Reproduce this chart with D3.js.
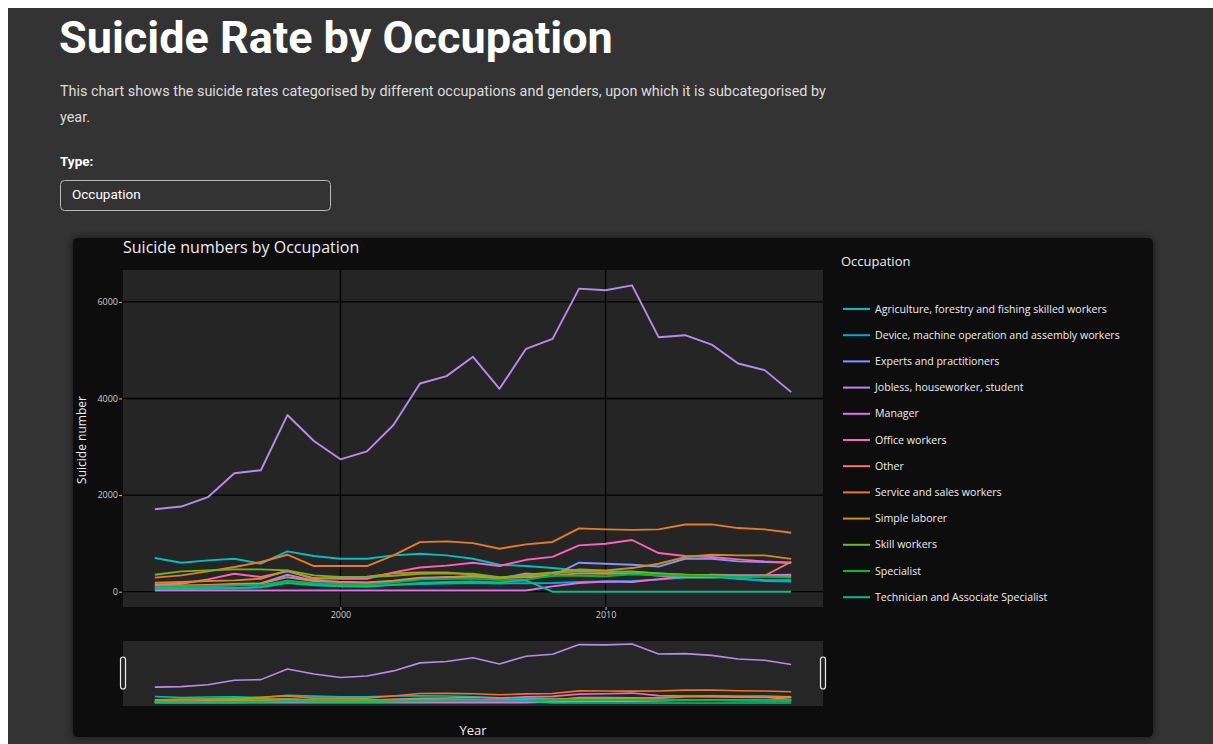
<!DOCTYPE html>
<html>
<head>
<meta charset="utf-8">
<script src="https://cdn.jsdelivr.net/npm/d3@7"></script>
<style>
  html, body { margin: 0; padding: 0; background: #ffffff; overflow: hidden; }
  svg { display: block; }
</style>
</head>
<body>
<svg id="chart" width="1213" height="744"></svg>
<script>
// ---------------- DATA ----------------
const years = d3.range(1993, 2018);
const categories = [
  "Agriculture, forestry and fishing skilled workers",
  "Device, machine operation and assembly workers",
  "Experts and practitioners",
  "Jobless, houseworker, student",
  "Manager",
  "Office workers",
  "Other",
  "Service and sales workers",
  "Simple laborer",
  "Skill workers",
  "Specialist",
  "Technician and Associate Specialist"
];
const colors = ["#00BFC4", "#00A9DF", "#7F96FF", "#B98BF0", "#E76BF3", "#FD61C0", "#F8766D", "#EA7A24", "#CF8E1C", "#6DB81A", "#00BA38", "#00C08B"];

const agriculture = [697, 600, 648, 683, 579, 834, 738, 683, 683, 751, 785, 751, 682, 558, 531, 489, 441, 430, 410, 380, 350, 330, 260, 240, 240];
const device      = [60, 60, 65, 70, 100, 230, 150, 130, 120, 140, 160, 170, 180, 170, 175, 180, 200, 210, 220, 250, 290, 300, 280, 220, 210];
const experts     = [90, 100, 110, 130, 170, 350, 230, 200, 180, 210, 270, 300, 320, 270, 380, 330, 600, 579, 558, 520, 682, 682, 627, 613, 600];
const jobless     = [1708, 1763, 1956, 2452, 2514, 3657, 3120, 2741, 2906, 3450, 4311, 4463, 4862, 4201, 5028, 5234, 6274, 6240, 6343, 5269, 5310, 5117, 4725, 4587, 4132];
const manager     = [25, 25, 25, 25, 25, 25, 25, 25, 25, 25, 25, 25, 25, 25, 25, 110, 180, 210, 200, 260, 320, 350, 340, 340, 350];
const office      = [150, 165, 255, 372, 303, 420, 282, 268, 268, 400, 500, 540, 600, 531, 660, 720, 958, 992, 1070, 800, 740, 717, 668, 627, 600];
const other       = [120, 130, 140, 160, 170, 300, 220, 200, 190, 230, 290, 300, 320, 280, 300, 330, 380, 370, 380, 330, 300, 300, 310, 330, 620];
const service     = [290, 338, 420, 510, 614, 765, 531, 531, 531, 751, 1027, 1041, 1005, 889, 980, 1030, 1310, 1290, 1280, 1289, 1390, 1393, 1317, 1289, 1220];
const simple      = [186, 200, 220, 234, 268, 441, 255, 300, 310, 379, 400, 400, 351, 282, 351, 400, 462, 441, 489, 579, 717, 765, 751, 751, 680];
const skill       = [351, 420, 441, 462, 462, 441, 338, 303, 303, 330, 370, 380, 370, 300, 330, 380, 420, 400, 420, 380, 350, 340, 330, 330, 320];
const specialist  = [100, 110, 120, 130, 140, 220, 180, 160, 150, 190, 250, 260, 270, 240, 250, 330, 330, 320, 360, 340, 330, 320, 300, 310, 290];
const technician  = [60, 65, 70, 75, 90, 180, 130, 110, 100, 140, 180, 200, 210, 190, 234, 0, 0, 0, 0, 0, 0, 0, 0, 0, 0];

const seriesValues = [agriculture, device, experts, jobless, manager, office, other, service, simple, skill, specialist, technician];
const yTicks = [0, 2000, 4000, 6000];
const xTicks = [2000, 2010];

const series = categories.map((c, i) => ({ name: c, color: colors[i], values: years.map((y, j) => ({ year: y, value: seriesValues[i][j] })) }));

// ---------------- LAYOUT ----------------
const svg = d3.select("#chart");
const page = svg.append("g");
page.append("rect").attr("x", 8).attr("y", 8).attr("width", 1205).attr("height", 736).attr("fill", "#333333");

page.append("text").attr("x", 59).attr("y", 53)
  .attr("font-family", "Roboto, sans-serif").attr("font-weight", 700).attr("font-size", 45)
  .attr("fill", "#ffffff").text("Suicide Rate by Occupation");

const sub = page.append("text").attr("font-family", "Roboto, sans-serif").attr("font-size", 14.4).attr("fill", "#dddddd");
sub.append("tspan").attr("x", 60).attr("y", 96).text("This chart shows the suicide rates categorised by different occupations and genders, upon which it is subcategorised by");
sub.append("tspan").attr("x", 60).attr("y", 122).text("year.");

page.append("text").attr("x", 60).attr("y", 166)
  .attr("font-family", "Roboto, sans-serif").attr("font-weight", 700).attr("font-size", 13.5)
  .attr("fill", "#ffffff").text("Type:");
page.append("rect").attr("x", 60.5).attr("y", 180.5).attr("width", 270).attr("height", 30).attr("rx", 4)
  .attr("fill", "#333333").attr("stroke", "#b8b8b8").attr("stroke-width", 1);
page.append("text").attr("x", 72).attr("y", 199)
  .attr("font-family", "Roboto, sans-serif").attr("font-size", 13.5).attr("fill", "#ffffff").text("Occupation");

// card
const defs = svg.append("defs");
const f = defs.append("filter").attr("id", "shadow").attr("x", "-5%").attr("y", "-5%").attr("width", "110%").attr("height", "110%");
f.append("feDropShadow").attr("dx", 0).attr("dy", 0).attr("stdDeviation", 4).attr("flood-color", "#000").attr("flood-opacity", 0.6);
svg.append("rect").attr("x", 73).attr("y", 238).attr("width", 1080).attr("height", 499).attr("rx", 5)
  .attr("fill", "#0a0a0a").attr("filter", "url(#shadow)");

// scales
const plot = { left: 123, right: 823, top: 270, bottom: 607 };
const yMax = d3.max(seriesValues, s => d3.max(s)), yMin = 0;
const yPad = (yMax - yMin) * 0.05;
const x = d3.scaleLinear().domain([1993 - 1.2, 2017 + 1.2]).range([plot.left, plot.right]);
const y = d3.scaleLinear().domain([yMin - yPad, yMax + yPad]).range([plot.bottom, plot.top]);
const ySlider = d3.scaleLinear().domain([yMin - yPad, yMax + yPad]).range([706, 641]);

const chart = svg.append("g");
chart.append("rect").attr("x", plot.left).attr("y", plot.top).attr("width", plot.right - plot.left).attr("height", plot.bottom - plot.top).attr("fill", "#252525");

// grid
chart.append("g").selectAll("line").data(yTicks).join("line")
  .attr("x1", plot.left).attr("x2", plot.right).attr("y1", d => y(d)).attr("y2", d => y(d))
  .attr("stroke", "#000").attr("stroke-width", 1.3);
chart.append("g").selectAll("line").data(xTicks).join("line")
  .attr("y1", plot.top).attr("y2", plot.bottom).attr("x1", d => x(d)).attr("x2", d => x(d))
  .attr("stroke", "#000").attr("stroke-width", 1.3);

// axes
const yAxis = d3.axisLeft(y).tickValues(yTicks).tickSize(3).tickPadding(1).tickFormat(d3.format("d"));
const gy = chart.append("g").attr("transform", `translate(${plot.left - 1},0)`).call(yAxis);
gy.select(".domain").remove();
gy.selectAll("line").attr("stroke", "#bbbbbb");
gy.selectAll("text").attr("fill", "#cccccc").attr("font-family", "'Open Sans', sans-serif").attr("font-size", 9);

const xAxis = d3.axisBottom(x).tickValues(xTicks).tickSize(3).tickPadding(2).tickFormat(d3.format("d"));
const gx = chart.append("g").attr("transform", `translate(0,${plot.bottom})`).call(xAxis);
gx.select(".domain").remove();
gx.selectAll("line").attr("stroke", "#bbbbbb");
gx.selectAll("text").attr("fill", "#cccccc").attr("font-family", "'Open Sans', sans-serif").attr("font-size", 9);

// lines
const line = d3.line().x(d => x(d.year)).y(d => y(d.value));
chart.append("g").attr("fill", "none").selectAll("path").data(series).join("path")
  .attr("d", d => line(d.values)).attr("stroke", d => d.color).attr("stroke-width", 1.9)
  .attr("stroke-linejoin", "round");

// titles
chart.append("text").attr("x", 123).attr("y", 253).attr("font-family", "'Open Sans', sans-serif").attr("font-size", 16)
  .attr("fill", "#eeeeee").text("Suicide numbers by Occupation");
chart.append("text").attr("transform", "translate(86,440) rotate(-90)").attr("text-anchor", "middle")
  .attr("font-family", "'Open Sans', sans-serif").attr("font-size", 12).attr("fill", "#eeeeee").text("Suicide number");
chart.append("text").attr("x", 473).attr("y", 735).attr("text-anchor", "middle")
  .attr("font-family", "'Open Sans', sans-serif").attr("font-size", 13).attr("fill", "#eeeeee").text("Year");

// range slider
chart.append("rect").attr("x", plot.left).attr("y", 641).attr("width", plot.right - plot.left).attr("height", 65).attr("fill", "#262626");
const mini = d3.line().x(d => x(d.year)).y(d => ySlider(d.value));
chart.append("g").attr("fill", "none").selectAll("path").data(series).join("path")
  .attr("d", d => mini(d.values)).attr("stroke", d => d.color).attr("stroke-width", 1.6)
  .attr("stroke-linejoin", "round");
chart.append("g").selectAll("rect").data([plot.left, plot.right]).join("rect")
  .attr("x", d => d - 2.5).attr("y", 657).attr("width", 5).attr("height", 32).attr("rx", 2.5)
  .attr("fill", "#222").attr("stroke", "#eeeeee").attr("stroke-width", 1.2);

// legend
const lg = chart.append("g");
lg.append("text").attr("x", 841).attr("y", 266).attr("font-family", "'Open Sans', sans-serif").attr("font-size", 13)
  .attr("fill", "#eeeeee").text("Occupation");
const items = lg.selectAll("g.item").data(series).join("g").attr("class", "item")
  .attr("transform", (d, i) => `translate(0,${309 + i * 26.2})`);
items.append("line").attr("x1", 843).attr("x2", 870).attr("y1", 0).attr("y2", 0)
  .attr("stroke", d => d.color).attr("stroke-width", 2);
items.append("text").attr("x", 875).attr("y", 3.6).attr("font-family", "'Open Sans', sans-serif").attr("font-size", 10.6)
  .attr("fill", "#eeeeee").text(d => d.name);
</script>
</body>
</html>
